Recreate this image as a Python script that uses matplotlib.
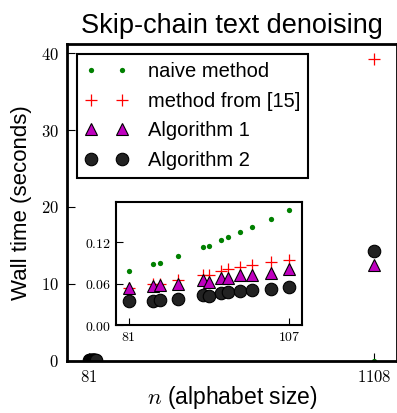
import matplotlib
matplotlib.use("Agg")
import matplotlib.pyplot as plt

plt.rcParams['font.family'] = ['Liberation Sans', 'DejaVu Sans']
plt.rcParams['mathtext.fontset'] = 'cm'

# alphabet sizes (small instances) and the large one
n_small = [81, 85, 86, 89, 93, 94, 96, 97, 99, 101, 104, 107]
n_big = 1108

# wall time in seconds
naive = [0.079, 0.088, 0.090, 0.100, 0.113, 0.115, 0.123, 0.127, 0.135, 0.142, 0.154, 0.167]
ref15 = [0.054, 0.059, 0.060, 0.065, 0.072, 0.072, 0.078, 0.081, 0.084, 0.087, 0.091, 0.094]
alg1 = [0.054, 0.057, 0.058, 0.060, 0.066, 0.063, 0.068, 0.069, 0.073, 0.073, 0.075, 0.081]
alg2 = [0.035, 0.035, 0.036, 0.038, 0.044, 0.042, 0.047, 0.048, 0.050, 0.051, 0.052, 0.056]

naive_big = 0.0
ref15_big = 39.3
alg1_big = 12.5
alg2_big = 14.3

styles = [
    dict(marker='o', ls='none', color='green', ms=3.8, mec='none'),
    dict(marker='+', ls='none', color='red', ms=8.5, mew=0.9),
    dict(marker='^', ls='none', color='m', ms=8, mec='black', mew=0.8),
    dict(marker='o', ls='none', color='#222222', ms=9, mec='black', mew=0.8),
]
labels = ['naive method', 'method from [15]', 'Algorithm 1', 'Algorithm 2']
series_small = [naive, ref15, alg1, alg2]
series_big = [naive_big, ref15_big, alg1_big, alg2_big]

fig = plt.figure(figsize=(3.97, 4.13), dpi=100)
ax = fig.add_axes([0.1688, 0.1266, 0.8312, 0.7669])

for ys, yb, st, lab in zip(series_small, series_big, styles, labels):
    ax.plot(n_small + [n_big], ys + [yb], label=lab, **st)

ax.set_xlim(2, 1191)
ax.set_ylim(0, 41.2)
ax.set_xticks([81, 1108], [r'$81$', r'$1108$'])
ax.set_yticks([0, 10, 20, 30, 40], [r'$0$', r'$10$', r'$20$', r'$30$', r'$40$'])
ax.tick_params(direction='in', length=6, labelsize=12, top=False, right=False, pad=6)
for s in ax.spines.values():
    s.set_linewidth(2)
ax.set_title('Skip-chain text denoising', fontsize=19.5, pad=8)
ax.set_ylabel('Wall time (seconds)', fontsize=16, labelpad=6)
ax.set_xlabel(r'$n$ (alphabet size)', fontsize=16.5, labelpad=-1)

leg = ax.legend(loc='upper left', numpoints=2, fontsize=14.5, fancybox=False,
                edgecolor='black', framealpha=1, bbox_to_anchor=(0.031, 0.968),
                borderaxespad=0, borderpad=0.4, handlelength=2.1,
                handletextpad=1.0, labelspacing=0.52)
leg.get_frame().set_linewidth(1.5)

# inset zoom on the small alphabets
ins = fig.add_axes([0.293, 0.2123, 0.467, 0.2986])
for ys, st in zip(series_small, styles):
    ins.plot(n_small, ys, **st)
ins.set_xlim(79, 109)
ins.set_ylim(0, 0.178)
ins.set_xticks([81, 107], [r'$81$', r'$107$'])
ins.set_yticks([0, 0.06, 0.12], [r'$0.00$', r'$0.06$', r'$0.12$'])
ins.tick_params(direction='in', length=5, labelsize=10, top=False, right=False)
for s in ins.spines.values():
    s.set_linewidth(1.5)

fig.savefig('out.png', dpi=100)
